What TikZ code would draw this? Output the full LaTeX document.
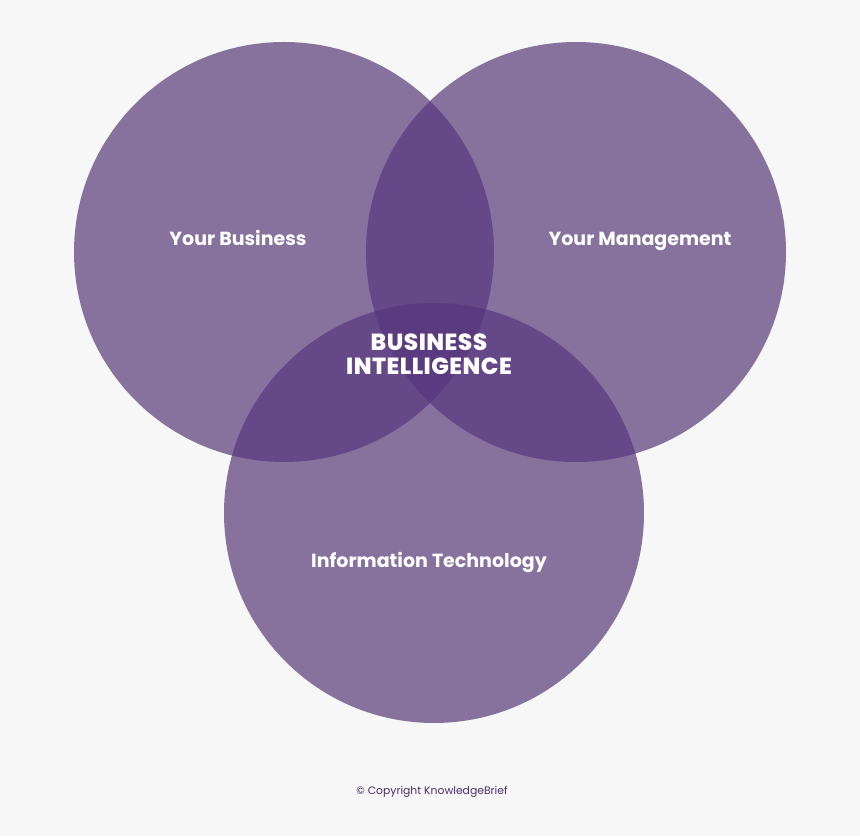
\documentclass[tikz,border=0pt]{standalone}
\usepackage{fontspec}
\setmainfont{Poppins}
\IfFontExistsTF{Poppins ExtraBold}
	{\newfontfamily\heavyfont{Poppins ExtraBold}[LetterSpace=2]}
	{\newfontfamily\heavyfont{Poppins}[UprightFont=*-Bold, LetterSpace=2]}
\usepackage{tikz}
\newcommand{\vcircle}[1]% center
{(#1) circle (210)
}
\definecolor{pagegray}{HTML}{F7F7F7}
\definecolor{setone}{HTML}{87729E}
\definecolor{settwo}{HTML}{654888}
\definecolor{setthree}{HTML}{5B3B80}
\definecolor{copyclr}{HTML}{4A2C6C}
\tikzset{
	setlabel/.style={text=white, anchor=base, font=\bfseries\fontsize{19}{22}\selectfont},
	corelabel/.style={text=white, font=\heavyfont\fontsize{23.3}{24}\selectfont, align=center}
}

\begin{document}
\begin{tikzpicture}[x=1pt, y=1pt]
	\fill[pagegray] (0,0) rectangle (860,836);
	\coordinate (bus) at (284,584);
	\coordinate (man) at (576,584);
	\coordinate (tec) at (434,323);
	\fill[setone] \vcircle{bus};
	\fill[setone] \vcircle{man};
	\fill[setone] \vcircle{tec};
	\begin{scope}
		\clip \vcircle{bus};
		\fill[settwo] \vcircle{man};
		\fill[settwo] \vcircle{tec};
	\end{scope}
	\begin{scope}
		\clip \vcircle{man};
		\fill[settwo] \vcircle{tec};
		\clip \vcircle{tec};
		\fill[setthree] \vcircle{bus};
	\end{scope}
	\node[setlabel] (busl) at (238,590){Your Business};
	\node[setlabel] (manl) at (640,590){Your Management};
	\node[setlabel] (tecl) at (429,268){Information Technology};
	\node[corelabel] (core) at (429,482){BUSINESS\\INTELLIGENCE};
	\node[text=copyclr, font=\fontsize{10.8}{13}\selectfont] (copy) at (432,44){\textcopyright{} Copyright KnowledgeBrief};
\end{tikzpicture}
\end{document}
